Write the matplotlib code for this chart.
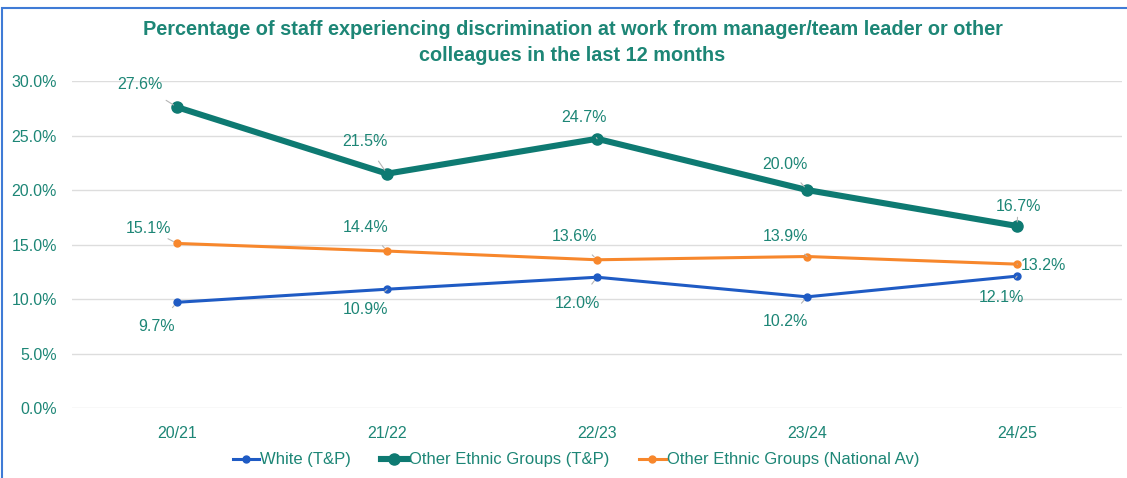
import matplotlib
matplotlib.use("Agg")
import matplotlib.pyplot as plt
from matplotlib.patches import Rectangle

plt.rcParams["font.family"] = ["Liberation Sans", "DejaVu Sans"]

years = ["20/21", "21/22", "22/23", "23/24", "24/25"]
white_tp = [9.7, 10.9, 12.0, 10.2, 12.1]
other_tp = [27.6, 21.5, 24.7, 20.0, 16.7]
other_nat = [15.1, 14.4, 13.6, 13.9, 13.2]

TEAL = "#0e7a72"
BLUE = "#1f5bc4"
ORANGE = "#f7872c"
TXT = "#1d8676"

# label offsets in pixels from each point (x right, y up)
off_white = [(-21, -24), (-22, -20), (-20, -26), (-22, -25), (-16, -21)]
off_other = [(-37, 23), (-22, 32), (-13, 21), (-22, 26), (1, 19)]
off_nat = [(-29, 15), (-21, 24), (-23, 23), (-22, 20), (26, -1)]

fig = plt.figure(figsize=(11.27, 4.78), dpi=100)
ax = fig.add_axes([0.064, 0.1464, 0.9316, 0.6841])

x = range(len(years))
ax.plot(x, white_tp, color=BLUE, lw=2.2, marker="o", ms=5, label="White (T&P)", zorder=3)
ax.plot(x, other_tp, color=TEAL, lw=4.4, marker="o", ms=8, label="Other Ethnic Groups (T&P)", zorder=4)
ax.plot(x, other_nat, color=ORANGE, lw=2.2, marker="o", ms=5,
        label="Other Ethnic Groups (National Av)", zorder=3)

for vals, offs in [(white_tp, off_white), (other_tp, off_other), (other_nat, off_nat)]:
    for i, (v, (dx, dy)) in enumerate(zip(vals, offs)):
        ax.annotate(f"{v:.1f}%", xy=(i, v), xytext=(dx, dy), textcoords="offset pixels",
                    ha="center", va="center", fontsize=11.5, color=TXT, zorder=5,
                    arrowprops=dict(arrowstyle="-", color="#b5b5b5", lw=0.8,
                                    shrinkA=8, shrinkB=3))

ax.set_xlim(-0.5, 4.5)
ax.set_ylim(0, 30)
ax.set_yticks(range(0, 31, 5))
ax.set_yticklabels([f"{t:.1f}%" for t in range(0, 31, 5)])
ax.set_xticks(list(x))
ax.set_xticklabels(years)
ax.tick_params(axis="both", length=0, labelsize=11.5, labelcolor=TXT)
ax.tick_params(axis="y", pad=11)
ax.tick_params(axis="x", pad=13)
ax.grid(axis="y", color="#dddddd", lw=1)
ax.set_axisbelow(True)
for s in ax.spines.values():
    s.set_visible(False)

fig.text(0.508, 0.911, "Percentage of staff experiencing discrimination at work from manager/team leader or other\n"
         "colleagues in the last 12 months", ha="center", va="center", fontsize=14.3,
         fontweight="bold", color=TXT, linespacing=1.5)

leg = fig.legend(loc="center", bbox_to_anchor=(0.511, 0.038), ncol=3, frameon=False,
                 fontsize=12, handlelength=1.6, handletextpad=0.05, columnspacing=1.8)
for t in leg.get_texts():
    t.set_color(TXT)

# frame around the chart
fig.patches.append(Rectangle((0.002, -0.01), 1.1, 0.993, transform=fig.transFigure,
                             fill=False, edgecolor="#3f7bd6", lw=1.5))

fig.savefig("out.png", dpi=100)
